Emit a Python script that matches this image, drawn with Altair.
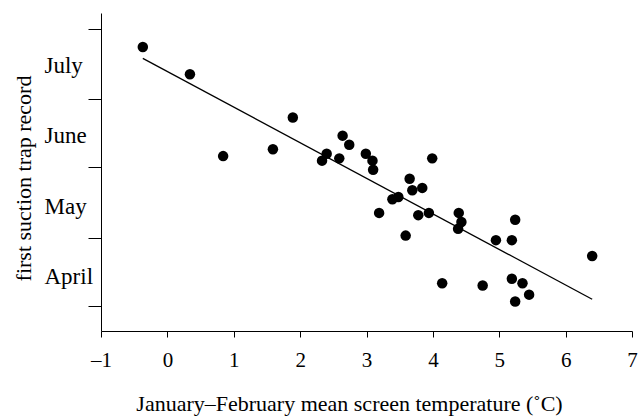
import altair as alt
import pandas as pd

# Jan–Feb mean screen temperature (°C) and first suction-trap record (day of year)
temp = [-0.37, 0.34, 1.89, 0.84, 1.59, 2.64, 2.74, 2.40, 2.33, 2.59, 2.99, 3.09,
        3.10, 3.99, 3.65, 3.84, 3.69, 3.48, 3.39, 3.19, 3.78, 3.94, 3.59, 4.39,
        4.43, 4.38, 5.24, 4.95, 5.19, 6.40, 4.14, 4.75, 5.19, 5.35, 5.45, 5.24]
day = [205, 193, 174, 157, 160, 166, 162, 158, 155, 156, 158, 155,
       151, 156, 147, 143, 142, 139, 138, 132, 131, 132, 122, 132,
       128, 125, 129, 120, 120, 113, 101, 100, 103, 101, 96, 93]

# fitted line, read at its two ends
fit_temp = [-0.37, 6.40]
fit_day = [200.0, 94.0]

x_ticks = [-1, 0, 1, 2, 3, 4, 5, 6, 7]
month_bounds = [91, 121, 152, 182, 213]   # 1 Apr, 1 May, 1 Jun, 1 Jul, 1 Aug
month_mid = [104, 135, 166, 197]
month_names = ["April", "May", "June", "July"]

FONT = "Liberation Serif"

df = pd.DataFrame({"temp": temp, "day": day, "kind": "obs"})
fit = pd.DataFrame({"temp": fit_temp, "day": fit_day, "kind": "fit"})
data = pd.concat([df, fit], ignore_index=True)

label_expr = ""
for v, n in zip(month_mid, month_names):
    label_expr += f"datum.value == {v} ? '{n}' : "
label_expr += "''"
bounds_str = ",".join(str(b) for b in month_bounds)

x_scale = alt.Scale(domain=[-1, 7], nice=False, zero=False)
y_scale = alt.Scale(domain=[80, 220], nice=False, zero=False)

x_axis = alt.Axis(
    values=x_ticks,
    labelExpr="datum.value < 0 ? '\u2013' + abs(datum.value) : '' + datum.value",
    title="January\u2013February mean screen temperature (\u02daC)",
    grid=False, tickSize=6, labelPadding=12, labelFlush=False,
    labelFont=FONT, labelFontSize=21, labelColor="black",
    titleFont=FONT, titleFontSize=22, titleFontWeight="normal", titleColor="black",
    titlePadding=23, titleX=248, domainColor="black", tickColor="black",
)

y_axis = alt.Axis(
    values=month_bounds + month_mid,
    labelExpr=label_expr,
    tickOpacity={"condition": {"test": f"indexof([{bounds_str}], datum.value) >= 0", "value": 1}, "value": 0},
    title="first suction trap record",
    grid=False, tickSize=13, labelPadding=44, labelAlign="left", labelFlush=False,
    labelOverlap=False,
    labelFont=FONT, labelFontSize=23, labelColor="black",
    titleFont=FONT, titleFontSize=22, titleFontWeight="normal", titleColor="black",
    titlePadding=9, titleY=165, domainColor="black", tickColor="black",
)

base = alt.Chart(data).encode(
    x=alt.X("temp:Q", scale=x_scale, axis=x_axis),
    y=alt.Y("day:Q", scale=y_scale, axis=y_axis),
)

points = base.transform_filter("datum.kind == 'obs'").mark_circle(size=110, color="black", opacity=1)
line = base.transform_filter("datum.kind == 'fit'").mark_line(color="black", strokeWidth=1.3)

chart = alt.layer(points, line).properties(
    width=531, height=318,
    autosize=alt.AutoSizeParams(type="none"),
    padding={"left": 101, "top": 13, "right": 6, "bottom": 86},
    background="white",
).configure_view(stroke=None)

chart.save("out.html", embed_options={"renderer": "svg", "actions": False})
